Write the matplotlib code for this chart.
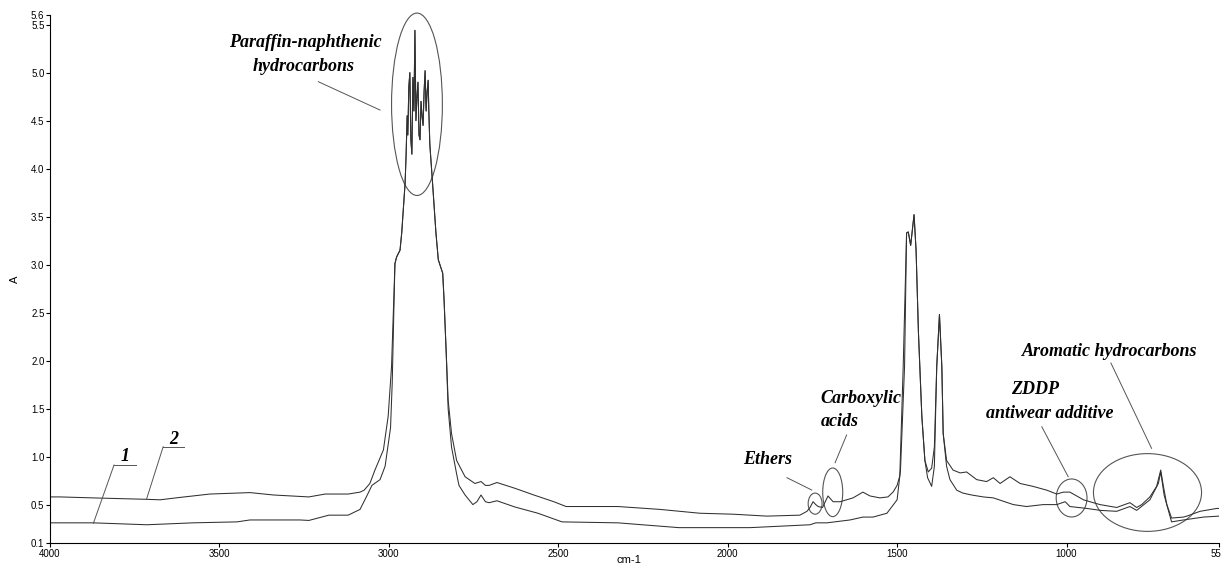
import matplotlib
matplotlib.use("Agg")
import matplotlib.pyplot as plt
import numpy as np
from matplotlib.patches import Ellipse

# --- data (wavenumber cm-1, absorbance A) ---
# curve 2 (upper baseline), left of the big C-H band
c2_left_wn = [4000, 3970, 3875, 3715, 3675, 3616, 3528, 3448, 3410, 3340, 3262,
              3236, 3188, 3120, 3085, 3073, 3056, 3041, 3016, 3002, 2992, 2987]
c2_left_a = [0.58, 0.58, 0.57, 0.555, 0.55, 0.575, 0.61, 0.62, 0.625, 0.60, 0.585,
             0.58, 0.61, 0.61, 0.63, 0.65, 0.72, 0.86, 1.07, 1.42, 1.94, 2.46]
# curve 1 (lower baseline), left of the big C-H band
c1_left_wn = [4000, 3970, 3873, 3714, 3578, 3448, 3410, 3262, 3236, 3177, 3120,
              3085, 3065, 3050, 3026, 3011, 2995, 2990, 2986]
c1_left_a = [0.31, 0.31, 0.31, 0.29, 0.31, 0.32, 0.34, 0.34, 0.335, 0.39, 0.39,
             0.45, 0.59, 0.70, 0.76, 0.90, 1.30, 1.77, 2.40]

# C-H stretching band, common to both spectra
ch_wn = [2982, 2977, 2967, 2962, 2952,
         2949, 2946, 2944, 2941, 2938, 2935, 2932, 2929, 2926, 2923, 2920, 2917, 2914,
         2911, 2908, 2905, 2902, 2899, 2896, 2893, 2890, 2887, 2884, 2882, 2879,
         2871, 2861, 2854, 2841, 2837, 2831]
ch_a = [3.01, 3.08, 3.15, 3.33, 3.85,
        4.15, 4.55, 4.35, 4.85, 5.00, 4.30, 4.15, 4.95, 4.60, 5.44, 4.50, 4.75, 4.90,
        4.35, 4.30, 4.70, 4.55, 4.45, 4.80, 5.02, 4.60, 4.80, 4.92, 4.60, 4.25,
        3.85, 3.33, 3.05, 2.91, 2.63, 2.11]

c2_mid_wn = [2825, 2815, 2800, 2775, 2746, 2728, 2715, 2704, 2681, 2628, 2572, 2513,
             2477, 2324, 2200, 2082, 1984, 1884, 1787, 1766, 1757, 1748, 1740, 1733,
             1720, 1704, 1689, 1668, 1639, 1630, 1601, 1580, 1551, 1527, 1512, 1500,
             1492, 1482]
c2_mid_a = [1.59, 1.24, 0.96, 0.79, 0.72, 0.74, 0.70, 0.70, 0.73, 0.67, 0.60, 0.53,
            0.48, 0.48, 0.45, 0.41, 0.40, 0.38, 0.39, 0.43, 0.47, 0.53, 0.50, 0.48,
            0.47, 0.59, 0.53, 0.53, 0.56, 0.57, 0.63, 0.59, 0.57, 0.58, 0.63, 0.70,
            0.80, 1.94]
c1_mid_wn = [2825, 2815, 2800, 2793, 2775, 2752, 2740, 2728, 2715, 2704, 2681, 2628,
             2560, 2489, 2324, 2144, 1934, 1757, 1740, 1707, 1639, 1601, 1571, 1530,
             1500, 1490, 1478]
c1_mid_a = [1.50, 1.10, 0.82, 0.70, 0.60, 0.50, 0.53, 0.60, 0.53, 0.52, 0.54, 0.475,
            0.41, 0.32, 0.31, 0.26, 0.26, 0.29, 0.31, 0.31, 0.34, 0.37, 0.37, 0.41,
            0.55, 0.86, 1.94]

# C-H bending doublet (1460) and 1377 band, common to both
bend_wn = [1472, 1467, 1460, 1450, 1444, 1437, 1427, 1418]
bend_a = [3.33, 3.34, 3.20, 3.52, 3.15, 2.29, 1.42, 0.96]
c2_valley_wn = [1408, 1398, 1390]
c2_valley_a = [0.84, 0.88, 1.10]
c1_valley_wn = [1410, 1398, 1390]
c1_valley_a = [0.78, 0.69, 0.90]
methyl_wn = [1383, 1375, 1368, 1364]
methyl_a = [1.94, 2.48, 1.94, 1.24]

c2_right_wn = [1354, 1335, 1314, 1295, 1265, 1236, 1216, 1196, 1167, 1137, 1099, 1058,
               1029, 1009, 990, 950, 931, 901, 852, 813, 793, 778, 754, 734, 722, 714,
               704, 690, 655, 645, 606, 557, 550]
c2_right_a = [0.96, 0.86, 0.83, 0.84, 0.76, 0.74, 0.78, 0.72, 0.79, 0.72, 0.69, 0.65,
              0.61, 0.63, 0.63, 0.55, 0.53, 0.50, 0.47, 0.52, 0.47, 0.50, 0.58, 0.69,
              0.86, 0.69, 0.50, 0.36, 0.37, 0.38, 0.43, 0.46, 0.46]
c1_right_wn = [1354, 1344, 1324, 1306, 1280, 1246, 1216, 1157, 1118, 1069, 1029, 1004,
               990, 940, 901, 852, 813, 793, 754, 729, 722, 712, 690, 655, 596, 550]
c1_right_a = [0.90, 0.76, 0.65, 0.62, 0.60, 0.58, 0.57, 0.50, 0.48, 0.50, 0.50, 0.53,
              0.48, 0.46, 0.44, 0.43, 0.48, 0.44, 0.55, 0.72, 0.84, 0.60, 0.32, 0.34,
              0.37, 0.38]

x_ticks = [4000, 3500, 3000, 2500, 2000, 1500, 1000, 550]
y_ticks = [0.1, 0.5, 1.0, 1.5, 2.0, 2.5, 3.0, 3.5, 4.0, 4.5, 5.0, 5.5, 5.6]
y_labels = ["0.1", "0.5", "1.0", "1.5", "2.0", "2.5", "3.0", "3.5", "4.0", "4.5",
            "5.0", "5.5", "5.6"]

curve2_wn = np.concatenate([c2_left_wn, ch_wn, c2_mid_wn, bend_wn, c2_valley_wn,
                            methyl_wn, c2_right_wn])
curve2_a = np.concatenate([c2_left_a, ch_a, c2_mid_a, bend_a, c2_valley_a,
                           methyl_a, c2_right_a])
curve1_wn = np.concatenate([c1_left_wn, ch_wn, c1_mid_wn, bend_wn, c1_valley_wn,
                            methyl_wn, c1_right_wn])
curve1_a = np.concatenate([c1_left_a, ch_a, c1_mid_a, bend_a, c1_valley_a,
                           methyl_a, c1_right_a])

W, H = 1221, 565
fig = plt.figure(figsize=(W / 100, H / 100), dpi=100)
ax = fig.add_axes([50 / W, 22 / H, 1169 / W, 528 / H])

line_c = "#303030"
ax.plot(curve2_wn, curve2_a, color=line_c, lw=0.75)
ax.plot(curve1_wn, curve1_a, color=line_c, lw=0.75)

ax.set_xlim(4000, 550)
ax.set_ylim(0.1, 5.6)
ax.set_xticks(x_ticks)
ax.set_xticklabels([str(t) for t in x_ticks])
ax.set_yticks(y_ticks)
ax.set_yticklabels(y_labels)
for s in ["top", "right"]:
    ax.spines[s].set_visible(False)
for s in ["left", "bottom"]:
    ax.spines[s].set_linewidth(0.8)
ax.tick_params(direction="out", length=3, width=0.8, labelsize=7, pad=1,
               labelfontfamily="Liberation Sans")
ax.set_xlabel("cm-1", fontsize=8, family="Liberation Sans", va="center")
ax.xaxis.set_label_coords(0.495, -17 / 528)
ax.set_ylabel("A", fontsize=8, family="Liberation Sans")
ax.yaxis.set_label_coords(-0.026, 0.5)

# --- annotations ---
ann_c = "#555555"
tfont = dict(family="Liberation Serif", weight="bold", style="italic", fontsize=13)


def lead(x1, y1, x2, y2):
    ax.plot([x1, x2], [y1, y2], color=ann_c, lw=0.7, clip_on=False)


def oval(x, y, w, h):
    ax.add_patch(Ellipse((x, y), w, h, fill=False, edgecolor=ann_c, lw=0.8,
                         clip_on=False))


oval(2917, 4.67, 150, 1.9)
ax.text(3246, 5.31, "Paraffin-naphthenic", ha="center", va="center", **tfont)
ax.text(3250, 5.06, "hydrocarbons", ha="center", va="center", **tfont)
lead(3208, 4.905, 3026, 4.61)

oval(1742, 0.51, 41, 0.22)
ax.text(1881, 0.965, "Ethers", ha="center", va="center", **tfont)
lead(1825, 0.78, 1752, 0.652)

oval(1690, 0.628, 59, 0.507)
ax.text(1607, 1.607, "Carboxylic", ha="center", va="center", **tfont)
ax.text(1726, 1.364, "acids", ha="left", va="center", **tfont)
lead(1649, 1.225, 1683, 0.936)

oval(985, 0.569, 91, 0.396)
ax.text(1092, 1.694, "ZDDP", ha="center", va="center", **tfont)
ax.text(1049, 1.45, "antiwear additive", ha="center", va="center", **tfont)
lead(1073, 1.311, 995, 0.79)

oval(761, 0.626, 319, 0.81)
ax.text(615, 2.093, "Aromatic hydrocarbons", ha="right", va="center", **tfont)
lead(869, 1.975, 749, 1.086)

# curve numbers
ax.text(3636, 1.173, "2", ha="center", va="center", **tfont)
lead(3666, 1.103, 3604, 1.103)
lead(3666, 1.103, 3715, 0.558)
ax.text(3779, 1.006, "1", ha="center", va="center", **tfont)
lead(3811, 0.9125, 3746, 0.9125)
lead(3811, 0.9125, 3872, 0.305)

fig.savefig("out.png", dpi=100)
